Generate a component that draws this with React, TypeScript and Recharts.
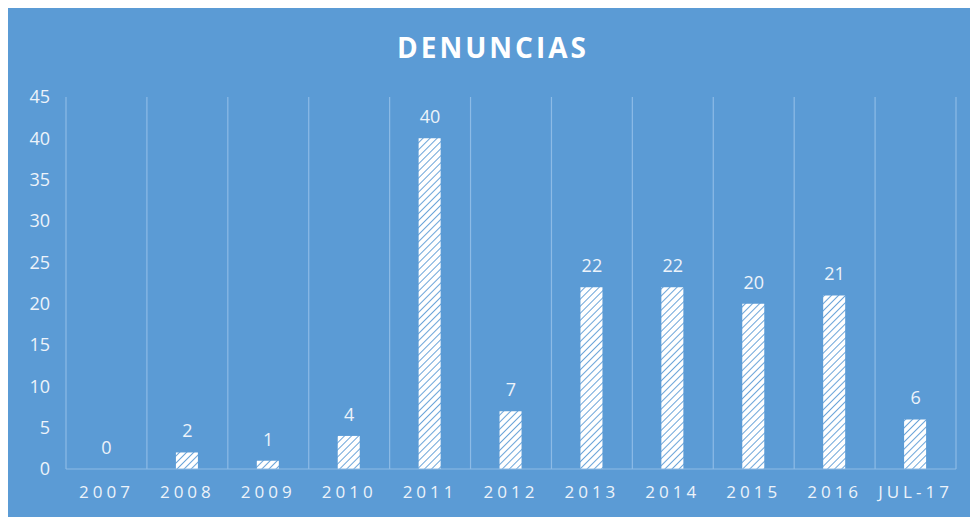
import { ComposedChart, Bar, Line, XAxis, YAxis, CartesianGrid, LabelList } from "recharts";

const years = ["2007", "2008", "2009", "2010", "2011", "2012", "2013", "2014", "2015", "2016", "JUL-17"];
const denuncias = [0, 2, 1, 4, 40, 7, 22, 22, 20, 21, 6];
const yTicks = [0, 5, 10, 15, 20, 25, 30, 35, 40, 45];

const data = years.map((year, i) => ({ year, value: denuncias[i] }));

const BG = "#5B9BD5";
const GRID = "#8DBBE6";
const TEXT = "#EDF3FA";
const FONT = "'Open Sans', sans-serif";

// bars of height 0 get no label, so the labels hang off an invisible line instead
const ValueLabel = (props: any) => {
  const { x, y, value } = props;
  return (
    <text x={x} y={y - 15} textAnchor="middle" fill={TEXT} fontSize={18} fontFamily={FONT}>
      {value}
    </text>
  );
};

export default function App() {
  return (
    <div style={{ position: "relative", width: 970, height: 509, background: BG, fontFamily: FONT }}>
      <div
        style={{
          position: "absolute",
          top: 20,
          left: 0,
          width: 970,
          textAlign: "center",
          color: "#FFFFFF",
          fontWeight: 700,
          fontSize: 28,
          letterSpacing: 3,
        }}
      >
        DENUNCIAS
      </div>
      <ComposedChart width={970} height={509} data={data} margin={{ top: 89, right: 22, left: 0, bottom: 0 }}>
        <defs>
          <pattern id="hatch" width="5" height="5" patternUnits="userSpaceOnUse" patternTransform="rotate(45)">
            <rect width="5" height="5" fill="#FFFFFF" />
            <line x1="0" y1="0" x2="0" y2="5" stroke={BG} strokeWidth="1.8" />
          </pattern>
        </defs>
        <CartesianGrid
          horizontal={false}
          stroke={GRID}
          strokeWidth={1.2}
          verticalCoordinatesGenerator={({ offset }: any) =>
            Array.from({ length: years.length + 1 }, (_, i) => offset.left + (i * offset.width) / years.length)
          }
        />
        <XAxis
          dataKey="year"
          height={48}
          tickLine={false}
          axisLine={{ stroke: GRID, strokeWidth: 1.2 }}
          tick={{ fill: TEXT, fontSize: 17, letterSpacing: 4, fontFamily: FONT }}
          tickMargin={11}
          interval={0}
        />
        <YAxis
          width={58}
          domain={[0, 45]}
          ticks={yTicks}
          axisLine={false}
          tickLine={false}
          tick={{ fill: TEXT, fontSize: 18, fontFamily: FONT }}
          tickMargin={10}
        />
        <Bar dataKey="value" fill="url(#hatch)" barSize={22} isAnimationActive={false} />
        <Line dataKey="value" stroke="none" dot={false} activeDot={false} isAnimationActive={false}>
          <LabelList dataKey="value" content={ValueLabel} />
        </Line>
      </ComposedChart>
    </div>
  );
}
